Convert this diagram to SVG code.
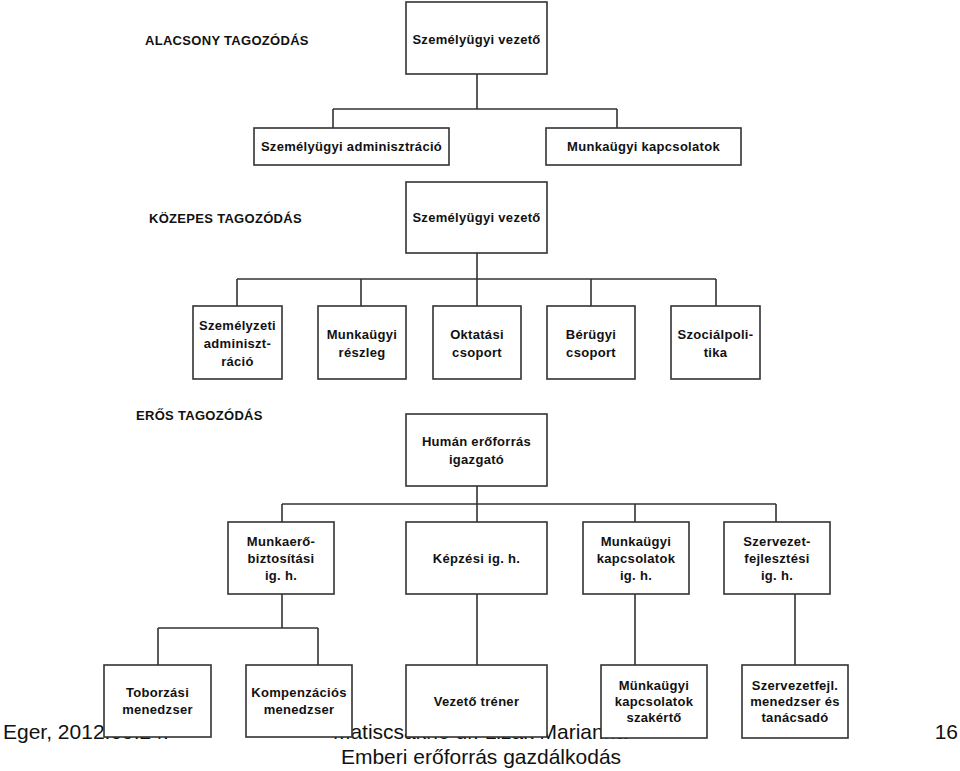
<svg xmlns="http://www.w3.org/2000/svg" width="960" height="771" viewBox="0 0 960 771">
<style>
.bx{fill:#fff;stroke:#333;stroke-width:1.6}
.t{font-family:"Liberation Sans",Arial,sans-serif;font-size:13px;font-weight:bold;fill:#111;letter-spacing:0.3px;text-anchor:middle}
.lb{font-family:"Liberation Sans",Arial,sans-serif;font-size:13px;font-weight:bold;fill:#111;letter-spacing:0.3px}
.ft{font-family:"Liberation Sans",Arial,sans-serif;font-size:21px;fill:#111}
.ln{fill:none;stroke:#333;stroke-width:1.6}
</style>
<rect width="960" height="771" fill="#fff"/>
<g id="footer">
<text class="ft" x="3" y="739">Eger, 2012.09.24.</text>
<text class="ft" x="480" y="739" text-anchor="middle">Matiscsákné dr. Lizák Marianna</text>
<text class="ft" x="481" y="764" text-anchor="middle">Emberi erőforrás gazdálkodás</text>
<text class="ft" x="958" y="739" text-anchor="end">16</text>
</g>
<g id="labels">
<text class="lb" x="145" y="44.5">ALACSONY TAGOZÓDÁS</text>
<text class="lb" x="149" y="222.5">KÖZEPES TAGOZÓDÁS</text>
<text class="lb" x="136" y="419.5">ERŐS TAGOZÓDÁS</text>
</g>
<g id="connectors">
<path class="ln" d="M477 74V109M333 109H617M333 109V128M617 109V128"/>
<path class="ln" d="M477 253V279M237 279H716M237 279V306M361 279V306M477 279V306M591 279V306M716 279V306"/>
<path class="ln" d="M477 486V504M282 504H776M282 504V522M477 504V522M635 504V522M776 504V522"/>
<path class="ln" d="M282 594V628M158 628H318M158 628V665M318 628V665M477 594V665M635 594V665M795 594V665"/>
</g>
<g id="a-root"><rect class="bx" x="406" y="2" width="141" height="72"/><text class="t" x="476.5" y="43.5">Személyügyi vezető</text></g>
<g id="a-admin"><rect class="bx" x="254" y="128" width="195" height="37"/><text class="t" x="351.5" y="151">Személyügyi adminisztráció</text></g>
<g id="a-munka"><rect class="bx" x="546" y="128" width="195" height="37"/><text class="t" x="643.5" y="151">Munkaügyi kapcsolatok</text></g>
<g id="b-root"><rect class="bx" x="406" y="182" width="141" height="71"/><text class="t" x="476.5" y="222">Személyügyi vezető</text></g>
<g id="b-1"><rect class="bx" x="193" y="306" width="89" height="73"/><text class="t" x="237.5"><tspan x="237.5" y="329.5">Személyzeti</tspan><tspan x="237.5" y="347.5">adminiszt-</tspan><tspan x="237.5" y="366">ráció</tspan></text></g>
<g id="b-2"><rect class="bx" x="318" y="306" width="88" height="73"/><text class="t" x="362"><tspan x="362" y="339">Munkaügyi</tspan><tspan x="362" y="357">részleg</tspan></text></g>
<g id="b-3"><rect class="bx" x="433" y="306" width="88" height="73"/><text class="t" x="477"><tspan x="477" y="339">Oktatási</tspan><tspan x="477" y="357">csoport</tspan></text></g>
<g id="b-4"><rect class="bx" x="547" y="306" width="88" height="73"/><text class="t" x="591"><tspan x="591" y="339">Bérügyi</tspan><tspan x="591" y="357">csoport</tspan></text></g>
<g id="b-5"><rect class="bx" x="671" y="306" width="89" height="73"/><text class="t" x="715.5"><tspan x="715.5" y="339">Szociálpoli-</tspan><tspan x="715.5" y="357">tika</tspan></text></g>
<g id="c-root"><rect class="bx" x="406" y="414" width="141" height="72"/><text class="t" x="476.5"><tspan x="476.5" y="445.5">Humán erőforrás</tspan><tspan x="476.5" y="463.5">igazgató</tspan></text></g>
<g id="c-1"><rect class="bx" x="228" y="522" width="106" height="72"/><text class="t" x="281"><tspan x="281" y="545.5">Munkaerő-</tspan><tspan x="281" y="562.5">biztosítási</tspan><tspan x="281" y="579.5">ig. h.</tspan></text></g>
<g id="c-2"><rect class="bx" x="406" y="522" width="141" height="72"/><text class="t" x="476.5" y="562.5">Képzési ig. h.</text></g>
<g id="c-3"><rect class="bx" x="583" y="522" width="106" height="72"/><text class="t" x="636"><tspan x="636" y="545.5">Munkaügyi</tspan><tspan x="636" y="562.5">kapcsolatok</tspan><tspan x="636" y="579.5">ig. h.</tspan></text></g>
<g id="c-4"><rect class="bx" x="724" y="522" width="106" height="72"/><text class="t" x="777"><tspan x="777" y="545.5">Szervezet-</tspan><tspan x="777" y="562.5">fejlesztési</tspan><tspan x="777" y="579.5">ig. h.</tspan></text></g>
<g id="d-1"><rect class="bx" x="104" y="665" width="107" height="72"/><text class="t" x="157.5"><tspan x="157.5" y="697">Toborzási</tspan><tspan x="157.5" y="714">menedzser</tspan></text></g>
<g id="d-2"><rect class="bx" x="246" y="665" width="106" height="72"/><text class="t" x="299"><tspan x="299" y="697">Kompenzációs</tspan><tspan x="299" y="714">menedzser</tspan></text></g>
<g id="d-3"><rect class="bx" x="406" y="665" width="141" height="72"/><text class="t" x="476.5" y="705.5">Vezető tréner</text></g>
<g id="d-4"><rect class="bx" x="601" y="665" width="106" height="73"/><text class="t" x="654"><tspan x="654" y="689.5">Münkaügyi</tspan><tspan x="654" y="705.5">kapcsolatok</tspan><tspan x="654" y="722">szakértő</tspan></text></g>
<g id="d-5"><rect class="bx" x="742" y="665" width="106" height="73"/><text class="t" x="795"><tspan x="795" y="689.5">Szervezetfejl.</tspan><tspan x="795" y="705.5">menedzser és</tspan><tspan x="795" y="722">tanácsadó</tspan></text></g>
</svg>
